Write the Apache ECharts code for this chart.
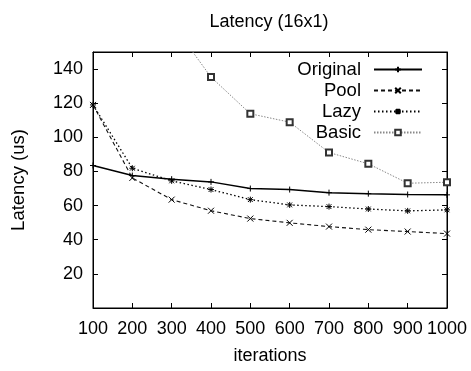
<!DOCTYPE html>
<html>
<head>
<meta charset="utf-8">
<script src="https://cdn.jsdelivr.net/npm/echarts@6/dist/echarts.min.js"></script>
<style>
  html, body { margin: 0; padding: 0; background: #fff; }
  #chart { width: 471px; height: 371px; }
</style>
</head>
<body>
<div id="chart"></div>
<script>
const iterations = [100, 200, 300, 400, 500, 600, 700, 800, 900, 1000]
const original = [83.5, 77.6, 75.5, 73.9, 70.0, 69.4, 67.6, 67.0, 66.5, 66.3]
const pool = [119, 76.2, 63.5, 57.0, 52.4, 49.9, 47.7, 45.9, 44.8, 43.6]
const lazy = [119, 81.9, 74.5, 69.4, 63.5, 60.4, 59.4, 58.0, 56.9, 57.5]
// first points of Basic are above the visible range
const basic = [260, 210, 167, 135.3, 113.8, 108.9, 91.1, 84.5, 73.1, 73.7]
const seriesNames = ['Original', 'Pool', 'Lazy', 'Basic']

const font = 'Liberation Sans, Arial, sans-serif'
const pairs = (vals) => iterations.map((x, i) => [x, vals[i]])

const chart = echarts.init(document.getElementById('chart'))

const lineSeries = (name, data, symbol, size, lineStyle, color, markColor) => ({
  name,
  type: 'line',
  data: pairs(data),
  symbol,
  symbolSize: size,
  showAllSymbol: true,
  lineStyle: Object.assign({ color }, lineStyle),
  itemStyle: { color: markColor, borderColor: markColor, borderWidth: 1 },
  emphasis: { disabled: true },
  animation: false
})

const legendRows = [60, 81, 102, 123]
const legends = seriesNames.map((name, i) => ({
  data: [name],
  orient: 'horizontal',
  align: 'right',
  right: 48,
  top: legendRows[i],
  padding: 0,
  itemWidth: 48,
  itemHeight: 7,
  selectedMode: false,
  textStyle: { fontFamily: font, fontSize: 18.5, color: '#000', padding: [0, 8, 0, 0] }
}))

const tickStyle = { show: true, inside: true, length: 5, lineStyle: { color: '#000' } }
const lineAxis = { show: true, onZero: false, lineStyle: { color: '#000', width: 1 } }

const option = {
  backgroundColor: '#fff',
  animation: false,
  title: {
    text: 'Latency (16x1)',
    left: 269,
    textAlign: 'center',
    top: 13,
    padding: 0,
    textStyle: { fontFamily: font, fontSize: 18, fontWeight: 'normal', color: '#000' }
  },
  legend: legends,
  grid: { left: 93, right: 24, top: 52, bottom: 63, show: true, borderColor: '#000', borderWidth: 1 },
  xAxis: [
    {
      type: 'value',
      min: 100,
      max: 1000,
      interval: 100,
      name: 'iterations',
      nameLocation: 'middle',
      nameGap: 39,
      nameTextStyle: { fontFamily: font, fontSize: 18, color: '#000' },
      axisLine: lineAxis,
      axisTick: tickStyle,
      axisLabel: { fontFamily: font, fontSize: 18, color: '#000', margin: 12, formatter: (v) => String(v) },
      splitLine: { show: false }
    },
    {
      type: 'value',
      position: 'top',
      min: 100,
      max: 1000,
      interval: 100,
      axisLine: lineAxis,
      axisTick: tickStyle,
      axisLabel: { show: false },
      splitLine: { show: false }
    }
  ],
  yAxis: [
    {
      type: 'value',
      min: 0,
      max: 150,
      interval: 20,
      name: 'Latency (us)',
      nameLocation: 'middle',
      nameGap: 65,
      nameTextStyle: { fontFamily: font, fontSize: 18.5, color: '#000' },
      axisLine: lineAxis,
      axisTick: tickStyle,
      axisLabel: {
        fontFamily: font,
        fontSize: 18,
        color: '#000',
        margin: 10,
        formatter: (v) => (v === 0 || v === 150 ? '' : String(v))
      },
      splitLine: { show: false }
    },
    {
      type: 'value',
      position: 'right',
      min: 0,
      max: 150,
      interval: 20,
      axisLine: lineAxis,
      axisTick: tickStyle,
      axisLabel: { show: false },
      splitLine: { show: false }
    }
  ],
  series: [
    lineSeries('Original', original, 'path://M0,5L10,5M5,0L5,10', 6, { width: 1.5, type: 'solid' }, '#000', '#000'),
    lineSeries('Pool', pool, 'path://M0,0L10,10M10,0L0,10', 6, { width: 1.1, type: [4, 3] }, '#111', '#000'),
    lineSeries('Lazy', lazy, 'path://M0,5L10,5M5,0L5,10M1,1L9,9M9,1L1,9', 6, { width: 1.3, type: [1.5, 2.5] }, '#000', '#000'),
    lineSeries('Basic', basic, 'emptyRect', 6, { width: 1, type: [1.5, 1.5] }, '#888', '#333'),
    // keeps the mirrored top/right axes active
    { type: 'line', xAxisIndex: 1, yAxisIndex: 1, data: [], silent: true }
  ]
}

chart.setOption(option)
window.addEventListener('resize', () => chart.resize())
</script>
</body>
</html>
